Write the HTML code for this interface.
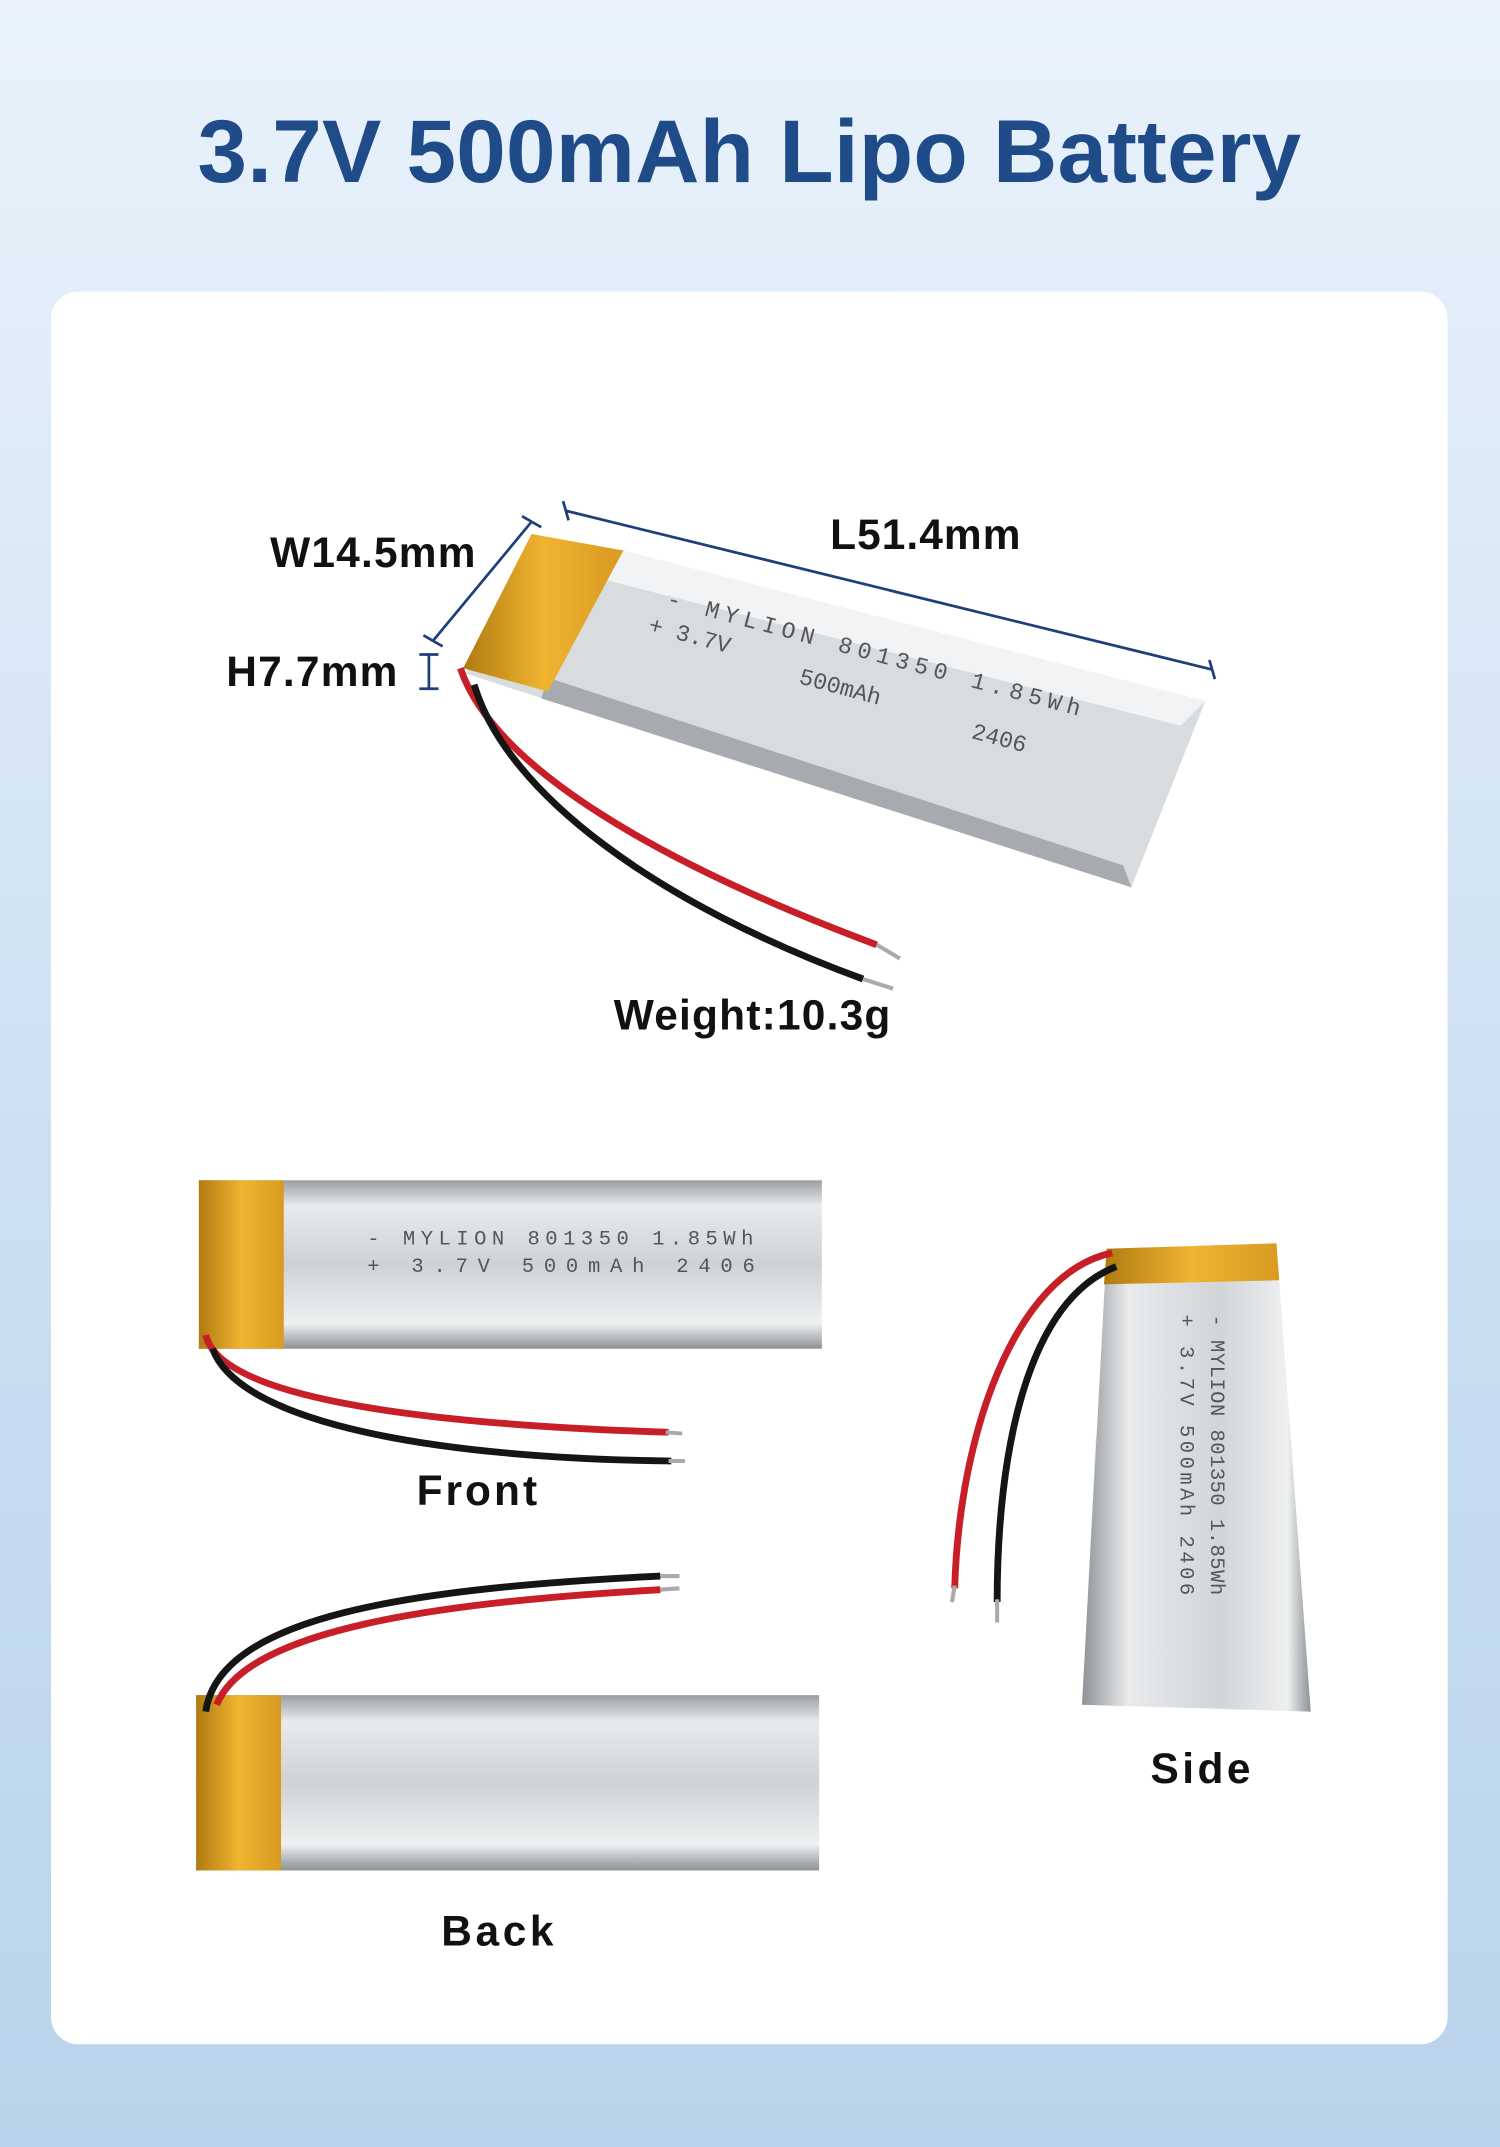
<!DOCTYPE html>
<html><head><meta charset="utf-8"><style>
html,body{margin:0;padding:0}
body{width:1500px;height:2147px;overflow:hidden;background:linear-gradient(#e9f2fb,#c9def1 60%,#b9d3ea);font-family:"Liberation Sans",sans-serif}
svg{display:block}
</style></head><body>
<svg width="1500" height="2147" viewBox="0 0 1095 1568" xmlns="http://www.w3.org/2000/svg">
<defs>
<linearGradient id="al" x1="0" y1="0" x2="0" y2="1">
<stop offset="0" stop-color="#9a9ea3"/><stop offset="0.15" stop-color="#e8eaec"/><stop offset="0.5" stop-color="#cfd2d5"/><stop offset="0.85" stop-color="#eef0f1"/><stop offset="1" stop-color="#8d9195"/></linearGradient>
<linearGradient id="alv" x1="0" y1="0" x2="1" y2="0">
<stop offset="0" stop-color="#8d9195"/><stop offset="0.2" stop-color="#e8eaec"/><stop offset="0.6" stop-color="#d2d5d8"/><stop offset="0.9" stop-color="#eef0f1"/><stop offset="1" stop-color="#8d9195"/></linearGradient>
<linearGradient id="yl" x1="0" y1="0" x2="1" y2="0"><stop offset="0" stop-color="#b07a10"/><stop offset="0.5" stop-color="#f0b431"/><stop offset="1" stop-color="#d89a20"/></linearGradient>
</defs>
<text x="547" y="133" text-anchor="middle" font-size="65" font-weight="bold" fill="#1f4c88" textLength="806">3.7V 500mAh Lipo Battery</text>
<rect x="37" y="213" width="1020" height="1280" rx="20" fill="#fff"/>

<!-- main battery -->
<polygon points="392,392 880,512 826,648 340,492" fill="#d9dcdf"/>
<polygon points="455,402 880,512 862,530 420,418" fill="#f2f3f4"/>
<polygon points="395,510 826,648 820,632 400,495" fill="#a7abaf"/>
<polygon points="388,390 455,402 400,505 338,488" fill="url(#yl)"/>
<g font-family="Liberation Mono,monospace" font-size="17" fill="#555" transform="translate(486,442) rotate(15)">
<text x="0" y="0" textLength="312">- MYLION 801350 1.85Wh</text>
<text x="-8" y="22">+ 3.7V</text>
<text x="108" y="30">500mAh</text>
<text x="240" y="36">2406</text></g>
<path d="M336,488 C360,560 480,630 640,690" stroke="#c81e28" stroke-width="5" fill="none"/>
<path d="M346,500 C370,580 480,660 630,715" stroke="#151515" stroke-width="5" fill="none"/>
<line x1="640" y1="690" x2="657" y2="700" stroke="#aaa" stroke-width="3"/>
<line x1="630" y1="715" x2="652" y2="722" stroke="#aaa" stroke-width="3"/>
<!-- dims -->
<g stroke="#1f3f7a" stroke-width="2" fill="none">
<line x1="388" y1="381" x2="316" y2="468"/><line x1="381" y1="377" x2="395" y2="385"/><line x1="309" y1="464" x2="323" y2="472"/>
<line x1="413" y1="373" x2="885" y2="489"/><line x1="411" y1="366" x2="415" y2="380"/><line x1="883" y1="482" x2="887" y2="496"/>
<line x1="313" y1="478" x2="313" y2="503"/><line x1="306" y1="478" x2="320" y2="478"/><line x1="306" y1="503" x2="320" y2="503"/>
</g>
<g font-size="31" font-weight="bold" fill="#111">
<text x="197" y="414" textLength="150">W14.5mm</text>
<text x="606" y="401" textLength="139">L51.4mm</text>
<text x="165" y="501" textLength="125">H7.7mm</text>
<text x="448" y="752" textLength="202">Weight:10.3g</text>
<text x="304" y="1099" textLength="88">Front</text>
<text x="840" y="1302" textLength="73">Side</text>
<text x="322" y="1421" textLength="82">Back</text>
</g>

<!-- front -->
<rect x="145" y="862" width="455" height="123" fill="url(#al)"/>
<rect x="145" y="862" width="62" height="123" fill="url(#yl)"/>
<g font-family="Liberation Mono,monospace" font-size="15" fill="#555">
<text x="268" y="909" textLength="282">- MYLION 801350 1.85Wh</text>
<text x="268" y="929" textLength="283">+ 3.7V    500mAh   2406</text></g>
<path d="M150,975 C160,1020 300,1040 488,1046" stroke="#c81e28" stroke-width="5" fill="none"/>
<path d="M155,985 C175,1040 320,1065 490,1067" stroke="#151515" stroke-width="5" fill="none"/>
<line x1="486" y1="1046" x2="498" y2="1047" stroke="#aaa" stroke-width="3"/>
<line x1="488" y1="1067" x2="500" y2="1067" stroke="#aaa" stroke-width="3"/>

<!-- back -->
<rect x="143" y="1238" width="455" height="128" fill="url(#al)"/>
<rect x="143" y="1238" width="62" height="128" fill="url(#yl)"/>
<path d="M150,1250 C160,1180 300,1160 482,1151" stroke="#151515" stroke-width="5" fill="none"/>
<path d="M158,1245 C180,1190 320,1170 482,1161" stroke="#c81e28" stroke-width="5" fill="none"/>
<line x1="482" y1="1151" x2="496" y2="1151" stroke="#aaa" stroke-width="3"/>
<line x1="482" y1="1161" x2="496" y2="1160" stroke="#aaa" stroke-width="3"/>

<!-- side -->
<polygon points="808,912 932,908 957,1250 790,1245" fill="url(#alv)"/>
<polygon points="800,1050 940,1050 957,1250 790,1245" fill="url(#alv)" opacity="0.3"/>
<polygon points="808,912 932,908 934,935 806,938" fill="url(#yl)"/>
<g font-family="Liberation Mono,monospace" font-size="15" fill="#555">
<text transform="translate(884,960) rotate(90)" textLength="205">- MYLION 801350 1.85Wh</text>
<text transform="translate(862,960) rotate(90)" textLength="205">+ 3.7V   500mAh   2406</text></g>
<path d="M812,915 C740,930 700,1050 697,1160" stroke="#c81e28" stroke-width="5" fill="none"/>
<path d="M815,925 C750,950 728,1060 728,1170" stroke="#151515" stroke-width="5" fill="none"/>
<line x1="697" y1="1158" x2="695" y2="1170" stroke="#aaa" stroke-width="3"/>
<line x1="728" y1="1168" x2="728" y2="1185" stroke="#aaa" stroke-width="3"/>
</svg>
</body></html>
